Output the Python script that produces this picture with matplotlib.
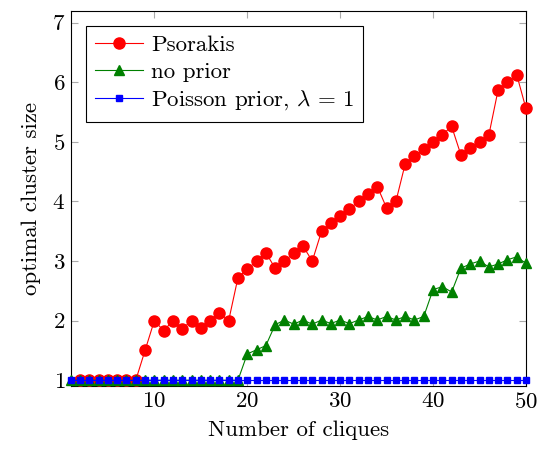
import numpy as np
import matplotlib
matplotlib.use('Agg')
import matplotlib.pyplot as plt

plt.rcParams['font.family'] = 'serif'
plt.rcParams['font.serif'] = ['cmr10', 'DejaVu Serif']
plt.rcParams['mathtext.fontset'] = 'cm'
plt.rcParams['axes.formatter.use_mathtext'] = True

cliques = np.arange(1, 51)

# Psorakis has no value for a single clique
psorakis_x = np.arange(2, 51)
psorakis = [1, 1, 1, 1, 1, 1, 1, 1.5, 2.0,
            1.83, 2.0, 1.86, 2.0, 1.875, 2.0, 2.13, 2.0, 2.72, 2.86,
            3.0, 3.14, 2.88, 3.0, 3.13, 3.25, 3.0, 3.5, 3.63, 3.75,
            3.875, 4.0, 4.13, 4.25, 3.89, 4.0, 4.63, 4.76, 4.88, 5.0,
            5.12, 5.26, 4.78, 4.9, 5.0, 5.11, 5.87, 6.0, 6.13, 5.56]

no_prior = [1, 1, 1, 1, 1, 1, 1, 1, 1, 1,
            1, 1, 1, 1, 1, 1, 1, 1, 1, 1.44,
            1.51, 1.58, 1.93, 2.01, 1.94, 2.01, 1.94, 2.01, 1.95, 2.01,
            1.95, 2.01, 2.07, 2.01, 2.07, 2.01, 2.07, 2.01, 2.07, 2.52,
            2.57, 2.48, 2.88, 2.95, 3.0, 2.9, 2.95, 3.02, 3.07, 2.96]

poisson = [1] * 50

fig = plt.figure(figsize=(5.4, 4.49), dpi=100)
ax = fig.add_axes([0.131, 0.140, 0.843, 0.836])

ax.plot(psorakis_x, psorakis, color='red', marker='o', markersize=8, lw=0.8,
        label='Psorakis', clip_on=False, zorder=3)
ax.plot(cliques, no_prior, color='green', marker='^', markersize=6.5, lw=0.8,
        label='no prior', clip_on=False, zorder=4)
ax.plot(cliques, poisson, color='blue', marker='s', markersize=5, lw=0.8,
        label=r'Poisson prior, $\lambda\,=\,1$', clip_on=False, zorder=5)

ax.set_xlim(1, 50)
ax.set_ylim(0.9, 7.2)
ax.set_xticks([10, 20, 30, 40, 50])
ax.set_yticks([1, 2, 3, 4, 5, 6, 7])
ax.tick_params(direction='in', top=True, right=True, length=5, width=0.8,
               color='#aaaaaa', labelsize=16.5, pad=4)
for s in ax.spines.values():
    s.set_linewidth(0.8)

ax.set_xlabel('Number of cliques', fontsize=16.5, labelpad=6)
ax.set_ylabel('optimal cluster size', fontsize=16.5, labelpad=8)

leg = ax.legend(loc='upper left', fontsize=16.5, fancybox=False, edgecolor='black',
                framealpha=1, handlelength=2.1, borderaxespad=0.65,
                labelspacing=0.3, handletextpad=0.35, borderpad=0.4)
leg.get_frame().set_linewidth(0.8)

fig.savefig('out.png', dpi=100)
